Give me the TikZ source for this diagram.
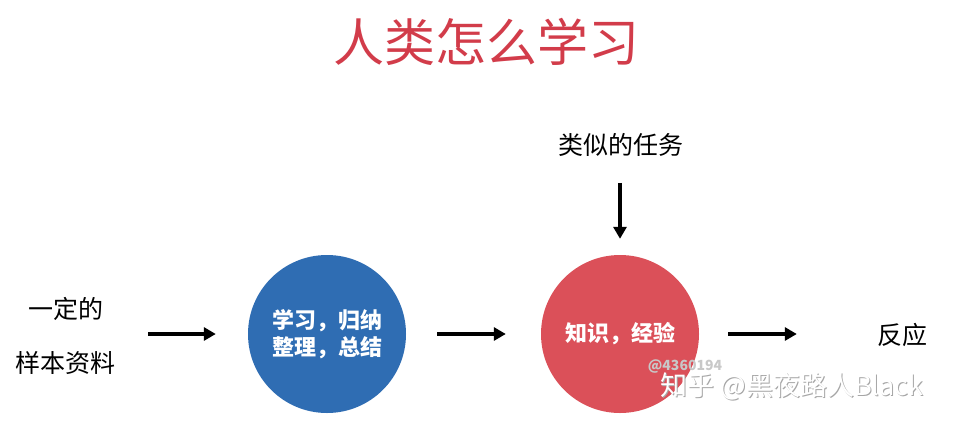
\documentclass[tikz,border=0pt]{standalone}
\usepackage{fontspec}
\setmainfont{Noto Sans CJK SC}
\usetikzlibrary{arrows.meta}
\definecolor{titlered}{HTML}{D23C4A}
\definecolor{cblue}{HTML}{2F6DB3}
\definecolor{cred}{HTML}{DB5059}
\definecolor{wmgray}{HTML}{C8C8C8}
\tikzset{
  lbl/.style={inner sep=0pt, font=\fontsize{25}{54}\selectfont, text=black, align=center},
  ball/.style={circle, minimum size=158pt, inner sep=0pt, text=white, align=center,
    font=\fontsize{22}{27}\selectfont\bfseries},
  arr/.style={line width=3.5pt, -{Triangle[length=12pt,width=13pt]}},
}
\begin{document}
\begin{tikzpicture}[x=1pt,y=-1pt]
\useasboundingbox[fill=white] (0,0) rectangle (956,426);
\node[inner sep=0pt, text=titlered, font=\fontsize{51}{51}\selectfont] (title) at (486,42) {人类怎么学习};
\node[lbl] (src) at (66,336) {一定的\\样本资料};
\node[ball, fill=cblue] (blue) at (327,334) {学习，归纳\\整理，总结};
\node[ball, fill=cred] (red) at (620,334) {知识，经验};
\node[lbl] (task) at (621,145) {类似的任务};
\node[lbl] (resp) at (902,335) {反应};
\draw[arr] ([xshift=32pt]src.east |- blue.center) -- ([xshift=-32pt]blue.west);
\draw[arr] ([xshift=31pt]blue.east) -- ([xshift=-35pt]red.west);
\draw[arr] ([xshift=29pt]red.east) -- ([xshift=-80pt]resp.west |- red.center);
\draw[arr] ([yshift=-26pt]task.south -| red.center) -- ([yshift=16pt]red.north);
\node[inner sep=0pt, text=wmgray, font=\fontsize{14}{14}\selectfont\bfseries] (wm1) at (685,367) {@4360194};
\node[inner sep=0pt, text=gray!70, font=\fontsize{27}{27}\selectfont] (wm2s) at (793,387) {知乎 @黑夜路人Black};
\node[inner sep=0pt, text=white, font=\fontsize{27}{27}\selectfont] (wm2) at (792,386) {知乎 @黑夜路人Black};
\end{tikzpicture}
\end{document}
